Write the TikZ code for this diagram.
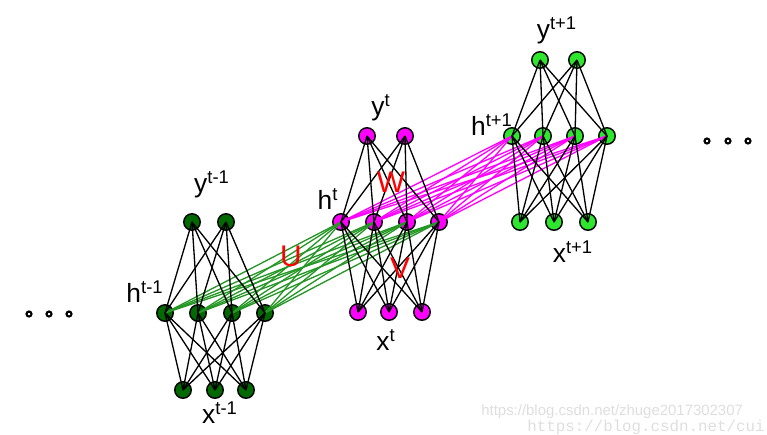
\documentclass[tikz,border=0pt]{standalone}
\usepackage{fontspec}
\setmainfont{Liberation Sans}
\setmonofont{Liberation Mono}
\usepackage{tikz}
\usetikzlibrary{positioning}

\definecolor{darkgrn}{RGB}{0,105,0}
\definecolor{litgrn}{RGB}{45,230,45}
\definecolor{crossgrn}{RGB}{35,150,35}
\definecolor{magen}{RGB}{255,0,255}

\begin{document}
\begin{tikzpicture}[x=0.02cm, y=-0.02cm,
  unit/.style={circle, draw=black, line width=0.8pt, minimum size=0.33cm,
               inner sep=0pt},
  lab/.style={font=\fontsize{15}{17}\selectfont, inner sep=0pt},
  wlab/.style={font=\fontsize{17}{19}\selectfont, text=red, inner sep=0pt},
  link/.style={line width=0.75pt},
  dot/.style={circle, draw=black, line width=1.2pt, minimum size=0.1cm,
              inner sep=0pt},
  wmark/.style={font=\fontsize{8.5}{10}\selectfont, text=black!13, inner sep=0pt}]
\useasboundingbox (0,0) rectangle (767,434);
\clip (0,0) rectangle (767,434);

% layer t-1
\foreach \i/\x in {1/192,2/226} \node[unit, fill=darkgrn] (ya\i) at (\x,222) {};
\foreach \i/\x in {1/165,2/198,3/232,4/265} \node[unit, fill=darkgrn] (ha\i) at (\x,313) {};
\foreach \i/\x in {1/183,2/215,3/246} \node[unit, fill=darkgrn] (xa\i) at (\x,390) {};
% layer t
\foreach \i/\x in {1/367,2/405} \node[unit, fill=magen] (yb\i) at (\x,136) {};
\foreach \i/\x in {1/341,2/374,3/407,4/439} \node[unit, fill=magen] (hb\i) at (\x,222) {};
\foreach \i/\x in {1/358,2/389,3/422} \node[unit, fill=magen] (xb\i) at (\x,312) {};
% layer t+1
\foreach \i/\x in {1/540,2/577} \node[unit, fill=litgrn] (yc\i) at (\x,60) {};
\foreach \i/\x in {1/512,2/543,3/575,4/607} \node[unit, fill=litgrn] (hc\i) at (\x,136) {};
\foreach \i/\x in {1/520,2/554,3/588} \node[unit, fill=litgrn] (xc\i) at (\x,222) {};

% recurrent links
\foreach \i in {1,...,4} \foreach \j in {1,...,4}
  \draw[link, crossgrn] (ha\i.center) -- (hb\j.center);
\foreach \i in {1,...,4} \foreach \j in {1,...,4}
  \draw[link, magen] (hb\i.center) -- (hc\j.center);

% links inside each step
\foreach \s in {a,b,c} {
  \foreach \i in {1,...,4} {
    \foreach \j in {1,2} \draw[link] (h\s\i.center) -- (y\s\j.center);
    \foreach \j in {1,2,3} \draw[link] (h\s\i.center) -- (x\s\j.center);
  }
}

% labels
\node[lab] (lya) at (212,184) {y\textsuperscript{t-1}};
\node[lab] (lha) at (145,292) {h\textsuperscript{t-1}};
\node[lab] (lxa) at (220,413) {x\textsuperscript{t-1}};
\node[lab] (lyb) at (381,108) {y\textsuperscript{t}};
\node[lab] (lhb) at (328,199) {h\textsuperscript{t}};
\node[lab] (lxb) at (386,340) {x\textsuperscript{t}};
\node[lab] (lyc) at (557,30) {y\textsuperscript{t+1}};
\node[lab] (lhc) at (492,125) {h\textsuperscript{t+1}};
\node[lab] (lxc) at (573,252) {x\textsuperscript{t+1}};
\node[wlab] (wu) at (291,256) {U};
\node[wlab] (ww) at (391,182) {W};
\node[wlab] (wv) at (400,268) {V};

% more steps
\foreach \i/\x in {1/29,2/49,3/69} \node[dot] (dl\i) at (\x,314) {};
\foreach \i/\x in {1/707,2/728,3/748} \node[dot] (dr\i) at (\x,141) {};

% watermark
\node[wmark, anchor=west] (wm1) at (481,412) {https://blog.csdn.net/zhuge2017302307};
\node[wmark, anchor=west, font=\ttfamily\fontsize{9}{10}\selectfont] (wm2) at (527,427) {https://blog.csdn.net/cui};
\end{tikzpicture}
\end{document}
